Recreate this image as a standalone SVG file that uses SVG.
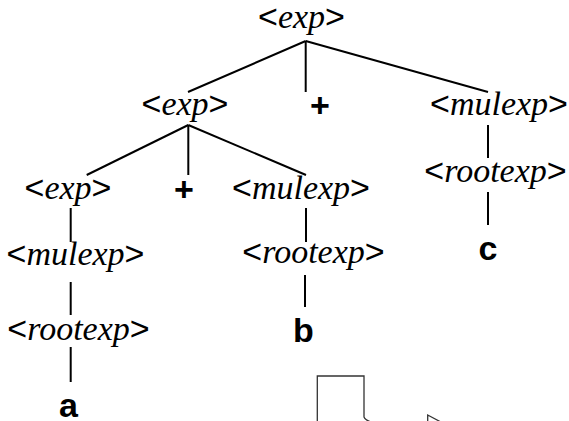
<svg xmlns="http://www.w3.org/2000/svg" width="569" height="421" viewBox="0 0 569 421">
<style>
text{font-size:34px;fill:#000;text-anchor:middle}
.s{font-family:"Liberation Sans",Arial,sans-serif}
.i{font-family:"Liberation Serif","Times New Roman",serif;font-style:italic}
.b{font-family:"Liberation Sans",Arial,sans-serif;font-weight:bold}
#edges line{stroke:#000;stroke-width:2}
.art{fill:none;stroke:#333;stroke-width:1.3}
</style>
<rect width="569" height="421" fill="#fff"/>
<g id="edges">
<line x1="305.7" y1="41" x2="188" y2="92"/>
<line x1="305.7" y1="41" x2="305.7" y2="92"/>
<line x1="305.7" y1="41" x2="488" y2="92"/>
<line x1="188.3" y1="125" x2="86.7" y2="175"/>
<line x1="188.3" y1="125" x2="188.3" y2="175"/>
<line x1="188.3" y1="125" x2="306" y2="175"/>
<line x1="488" y1="125" x2="488" y2="158"/>
<line x1="488" y1="192" x2="488" y2="225"/>
<line x1="70.7" y1="208" x2="70.7" y2="242"/>
<line x1="70.7" y1="282" x2="70.7" y2="315"/>
<line x1="70.7" y1="347" x2="70.7" y2="382"/>
<line x1="306" y1="208" x2="306" y2="242"/>
<line x1="305" y1="275" x2="305" y2="307"/>
</g>
<g id="n_root"><text x="301.5" y="28"><tspan class="s">&lt;</tspan><tspan class="i">exp</tspan><tspan class="s">&gt;</tspan></text></g>
<g id="n_exp2"><text x="185" y="115"><tspan class="s">&lt;</tspan><tspan class="i">exp</tspan><tspan class="s">&gt;</tspan></text></g>
<g id="n_plus1"><text class="b" x="320" y="117">+</text></g>
<g id="n_mul_c"><text x="499" y="115"><tspan class="s">&lt;</tspan><tspan class="i">mulexp</tspan><tspan class="s">&gt;</tspan></text></g>
<g id="n_root_c"><text x="495.5" y="182"><tspan class="s">&lt;</tspan><tspan class="i">rootexp</tspan><tspan class="s">&gt;</tspan></text></g>
<g id="n_c"><text class="b" x="488" y="260">c</text></g>
<g id="n_exp3"><text x="68" y="199"><tspan class="s">&lt;</tspan><tspan class="i">exp</tspan><tspan class="s">&gt;</tspan></text></g>
<g id="n_plus2"><text class="b" x="184" y="200.5">+</text></g>
<g id="n_mul_b"><text x="301" y="199"><tspan class="s">&lt;</tspan><tspan class="i">mulexp</tspan><tspan class="s">&gt;</tspan></text></g>
<g id="n_root_b"><text x="313.5" y="263"><tspan class="s">&lt;</tspan><tspan class="i">rootexp</tspan><tspan class="s">&gt;</tspan></text></g>
<g id="n_b"><text class="b" x="303.5" y="342">b</text></g>
<g id="n_mul_a"><text x="75.5" y="265"><tspan class="s">&lt;</tspan><tspan class="i">mulexp</tspan><tspan class="s">&gt;</tspan></text></g>
<g id="n_root_a"><text x="78.5" y="340"><tspan class="s">&lt;</tspan><tspan class="i">rootexp</tspan><tspan class="s">&gt;</tspan></text></g>
<g id="n_a"><text class="b" x="68.5" y="417">a</text></g>
<path class="art" d="M317.3 421.5 Q317.3 419 317.3 417 L317.3 376 L364 376 L364 417 Q365 420 370 421.5"/>
<path class="art" d="M427.7 421.5 L427.7 415 L440 421.5"/>
</svg>
